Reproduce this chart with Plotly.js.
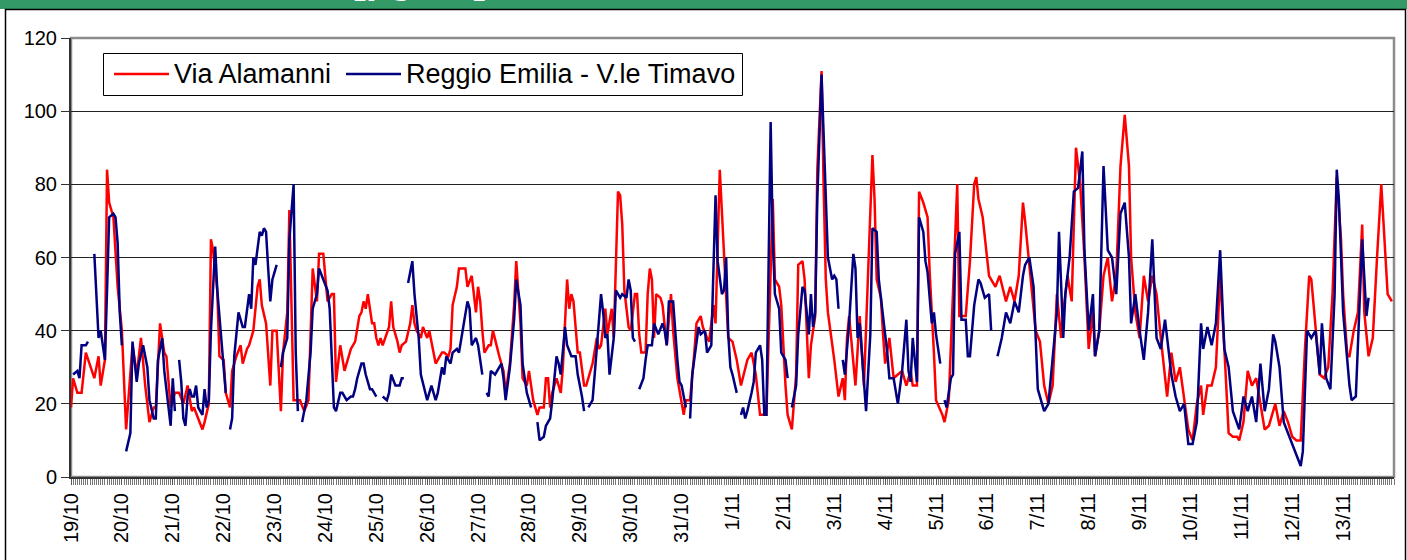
<!DOCTYPE html>
<html>
<head>
<meta charset="utf-8">
<script src="https://cdn.plot.ly/plotly-3.0.1.min.js"></script>
<style>
html,body{margin:0;padding:0;background:#fff;}
#chart{width:1407px;height:560px;}
</style>
</head>
<body>
<div id="chart"></div>
<script>
// Day labels (one tick per day, hourly minor ticks); time unit = hours since 19/10 00:00
const dayLabels = ["19/10","20/10","21/10","22/10","23/10","24/10","25/10","26/10","27/10","28/10","29/10","30/10","31/10","1/11","2/11","3/11","4/11","5/11","6/11","7/11","8/11","9/11","10/11","11/11","12/11","13/11"];
const seriesNames = ["Via Alamanni", "Reggio Emilia - V.le Timavo"];
const seriesColors = ["#ff0000", "#000080"];

// Via Alamanni (red): [hour, value] readings, null = missing
const viaAlamanni = [
[0,19],[1,27],[3,23],[5,23],[7,34],[11,27],[13,33],[14,25],[16,32],[17,84],[18,75],[20,71],[22,52],[23,46],[24,40],[26,13],[29,36],[31,28],[33,38],[35,25],[37,15],[39,19],[40,19],[42,42],[44,34],[45,33],[47,19],[49,23],[51,23],[53,20],[55,25],[57,18],[58,19],[62,13],[63,15],[65,20],[66,65],[67,62],[69,51],[70,33],[72,32],[73,23],[75,19],[76,29],[78,33],[80,36],[81,31],[83,35],[84,36],[86,40],[88,52],[89,54],[90,47],[92,42],[93,32],[94,25],[95,40],[97,40],[99,18],[100,34],[102,45],[103,73],[105,21],[108,21],[110,18],[112,21],[114,57],[116,48],[117,61],[119,61],[121,48],[123,50],[124,50],[125,26],[127,36],[129,29],[132,35],[134,37],[136,44],[137,45],[138,48],[139,46],[140,50],[142,42],[143,42],[144,38],[145,36],[146,38],[147,36],[149,39],[150,41],[151,48],[152,41],[154,37],[155,34],[156,36],[158,37],[160,42],[161,47],[162,42],[163,40],[165,38],[166,41],[168,38],[169,40],[170,37],[172,31],[173,32],[175,34],[176,34],[178,33],[179,35],[180,47],[182,52],[183,57],[186,57],[187,52],[189,55],[191,45],[192,52],[193,48],[194,40],[195,34],[197,36],[198,36],[199,40],[201,35],[202,33],[204,29],[205,23],[207,31],[209,47],[210,59],[212,42],[213,27],[215,25],[216,29],[218,21],[220,17],[221,19],[223,19],[224,27],[225,27],[226,19],[227,23],[229,27],[231,23],[232,30],[234,54],[235,46],[236,50],[237,48],[238,41],[239,34],[240,34],[242,25],[243,25],[245,29],[246,31],[248,38],[249,35],[250,36],[252,46],[253,39],[255,46],[256,38],[257,59],[258,78],[259,77],[260,69],[261,51],[263,41],[264,40],[266,50],[267,50],[268,39],[269,34],[271,34],[272,50],[273,57],[274,54],[275,38],[276,50],[278,49],[279,47],[281,36],[283,50],[284,40],[286,27],[287,24],[289,17],[290,21],[292,21],[294,34],[295,42],[297,44],[298,41],[300,38],[301,37],[303,47],[304,42],[306,84],[307,72],[308,61],[310,38],[312,37],[314,32],[316,25],[319,32],[321,34],[323,28],[325,17],[328,17],[331,76],[332,54],[334,52],[335,47],[337,25],[338,17],[340,13],[342,28],[343,58],[345,59],[346,54],[348,27],[349,36],[351,44],[352,84],[354,111],[355,79],[356,54],[357,45],[359,37],[360,32],[362,22],[364,27],[365,21],[366,38],[367,44],[370,25],[372,44],[374,25],[378,88],[379,76],[380,54],[382,49],[383,39],[384,31],[386,38],[388,27],[390,28],[392,29],[394,25],[396,29],[397,25],[399,25],[400,78],[402,75],[404,71],[405,56],[407,34],[408,21],[411,17],[412,15],[414,21],[416,52],[418,80],[419,44],[422,44],[424,59],[426,80],[427,82],[428,76],[430,71],[432,60],[433,55],[436,52],[438,55],[441,48],[443,52],[445,48],[447,55],[449,75],[450,70],[452,58],[455,40],[457,37],[459,25],[461,20],[463,25],[465,50],[467,38],[468,45],[470,55],[472,48],[474,90],[476,80],[478,60],[480,35],[482,45],[483,33],[485,40],[487,55],[489,60],[491,48],[493,55],[495,85],[497,99],[499,85],[500,60],[502,45],[504,38],[506,55],[508,48],[510,55],[512,50],[514,38],[516,28],[517,22],[519,34],[521,26],[523,30],[525,22],[527,13],[529,10],[531,20],[533,25],[534,17],[536,25],[538,25],[540,30],[542,55],[544,35],[546,12],[548,11],[550,11],[551,10],[553,15],[555,29],[557,25],[559,27],[561,20],[563,13],[565,14],[567,18],[568,20],[570,14],[572,18],[574,15],[576,11],[578,10],[580,10],[582,35],[584,55],[585,54],[587,40],[589,28],[591,27],[593,30],[595,50],[597,82],[599,65],[600,50],[602,33],[603,33],[605,40],[607,45],[609,69],[610,45],[612,33],[614,38],[616,60],[618,80],[619,70],[621,50],[623,48]
];

// Reggio Emilia - V.le Timavo (blue): [hour, value] readings, null = missing
const reggioTimavo = [
[1,28],[3,29],[4,27],[5,36],[7,36],[8,37],[9,null],[11,61],[12,50],[13,38],[14,40],[16,32],[17,51],[18,71],[20,72],[21,71],[22,64],[23,45],[24,36],[25,null],[26,7],[28,12],[29,37],[31,26],[32,31],[34,36],[36,30],[37,21],[39,16],[40,16],[41,32],[43,38],[44,29],[46,18],[47,14],[48,27],[49,18],[50,null],[51,32],[52,26],[53,16],[54,14],[55,22],[56,24],[57,22],[58,22],[59,25],[60,19],[62,17],[63,24],[64,19],[65,21],[66,40],[68,63],[69,51],[71,37],[73,23],[74,null],[75,13],[76,16],[77,33],[79,45],[81,41],[82,41],[84,50],[85,46],[86,60],[87,58],[89,67],[90,66],[91,68],[92,67],[93,57],[94,48],[95,54],[97,58],[98,null],[99,30],[100,34],[102,38],[103,65],[105,80],[106,34],[107,18],[108,null],[109,15],[110,18],[111,21],[113,34],[114,46],[116,50],[117,57],[119,54],[121,51],[122,46],[124,19],[125,18],[127,23],[128,23],[130,21],[132,22],[133,22],[134,24],[135,27],[137,31],[138,31],[139,28],[141,24],[142,24],[144,22],[145,null],[147,22],[149,21],[150,23],[151,28],[153,25],[154,25],[155,25],[156,27],[157,27],[158,null],[159,53],[161,59],[162,50],[164,38],[165,28],[167,23],[168,21],[170,25],[172,21],[173,23],[175,30],[176,28],[177,33],[179,31],[180,34],[182,35],[183,34],[185,41],[187,48],[188,46],[189,36],[191,38],[192,36],[194,28],[195,null],[196,23],[197,22],[198,29],[200,28],[201,29],[203,31],[204,27],[205,21],[207,30],[209,43],[210,54],[212,47],[213,31],[215,23],[216,21],[217,19],[218,null],[220,15],[221,10],[223,11],[224,14],[226,16],[227,21],[229,33],[230,31],[231,28],[233,41],[234,36],[236,33],[238,33],[239,28],[241,22],[242,18],[243,null],[244,19],[246,21],[247,28],[250,50],[251,45],[252,38],[253,39],[254,28],[256,38],[257,51],[259,49],[260,50],[262,49],[263,54],[264,51],[265,38],[266,37],[267,null],[268,24],[270,27],[271,32],[272,36],[274,36],[275,42],[277,39],[279,42],[280,40],[281,36],[282,48],[284,48],[286,32],[287,26],[288,25],[290,19],[291,null],[292,16],[293,28],[296,41],[297,39],[299,40],[300,34],[302,36],[304,77],[305,59],[307,50],[308,51],[309,60],[310,39],[311,30],[312,28],[314,23],[315,null],[316,17],[317,19],[318,16],[319,18],[321,23],[322,26],[323,34],[325,36],[326,32],[327,17],[328,17],[329,56],[330,97],[331,65],[332,50],[334,46],[335,34],[337,32],[338,27],[339,null],[340,19],[342,25],[343,39],[345,52],[346,51],[348,39],[349,50],[350,41],[351,45],[352,76],[354,110],[356,74],[357,60],[359,54],[360,55],[361,54],[362,46],[363,null],[364,32],[365,28],[367,42],[369,61],[370,57],[371,38],[372,42],[373,33],[375,18],[377,39],[378,68],[380,67],[381,54],[383,44],[385,34],[386,27],[388,27],[390,20],[391,24],[392,29],[394,43],[395,29],[396,26],[397,38],[399,26],[400,71],[402,67],[403,59],[404,56],[405,49],[406,42],[407,45],[408,39],[410,31],[411,null],[412,21],[413,19],[415,27],[416,28],[417,61],[419,67],[420,43],[422,43],[423,33],[424,33],[426,47],[428,54],[429,53],[431,49],[433,50],[434,40],[435,null],[437,33],[439,38],[441,45],[443,42],[445,48],[447,45],[449,55],[450,58],[452,60],[454,52],[456,24],[459,18],[461,20],[463,32],[465,45],[466,67],[468,38],[469,50],[471,60],[473,78],[475,79],[477,89],[478,62],[480,40],[482,50],[483,33],[485,40],[487,85],[489,62],[491,60],[493,50],[495,72],[497,75],[499,60],[500,42],[502,50],[504,40],[506,32],[508,45],[510,65],[512,38],[514,35],[516,43],[517,38],[519,28],[521,22],[523,18],[525,20],[527,9],[529,9],[531,15],[533,42],[534,35],[536,41],[538,36],[540,42],[542,62],[544,35],[546,30],[548,18],[550,15],[551,13],[553,22],[555,18],[557,22],[559,15],[561,31],[563,18],[565,24],[567,39],[568,37],[570,30],[572,15],[574,12],[578,6],[580,3],[581,7],[583,40],[585,38],[587,40],[589,28],[590,42],[592,27],[594,24],[596,50],[597,84],[598,76],[600,45],[603,25],[604,21],[606,22],[609,65],[611,44],[612,49]
];

const tickHours = dayLabels.map((_, d) => d * 24);

const W = 1407, H = 560;
const m = {l: 71, r: 13, t: 38, b: 83};
const pw = W - m.l - m.r, ph = H - m.t - m.b;
const px = x => (x - m.l) / pw;       // pixel x -> paper
const py = y => (H - m.b - y) / ph;   // pixel y -> paper
const FONT = "Arial, 'Liberation Sans', sans-serif";

const traces = [viaAlamanni, reggioTimavo].map((s, k) => ({
  x: s.map(p => p[0]), y: s.map(p => p[1]),
  name: seriesNames[k], type: "scatter", mode: "lines",
  line: {color: seriesColors[k], width: 2.5}, connectgaps: false
}));

// legend box drawn as shapes + text (Excel-style long line samples)
const legY = 74;
const legendShapes = [
  {type: "rect", xref: "paper", yref: "paper", x0: px(103.5), x1: px(742.5), y0: py(95.5), y1: py(53.5),
   fillcolor: "#ffffff", line: {color: "#000", width: 1}, layer: "above"},
  {type: "line", xref: "paper", yref: "paper", x0: px(114), x1: px(169), y0: py(legY), y1: py(legY),
   line: {color: seriesColors[0], width: 2.5}, layer: "above"},
  {type: "line", xref: "paper", yref: "paper", x0: px(346), x1: px(401), y0: py(legY), y1: py(legY),
   line: {color: seriesColors[1], width: 2.5}, layer: "above"}
];
const legendTexts = [
  {xref: "paper", yref: "paper", x: px(172), y: py(legY), xanchor: "left", yanchor: "middle",
   text: seriesNames[0], showarrow: false, font: {family: FONT, size: 27, color: "#000"}},
  {xref: "paper", yref: "paper", x: px(404), y: py(legY), xanchor: "left", yanchor: "middle",
   text: seriesNames[1], showarrow: false, font: {family: FONT, size: 27, color: "#000"}}
];

const layout = {
  width: W, height: H,
  margin: m,
  paper_bgcolor: "#ffffff",
  plot_bgcolor: "#ffffff",
  font: {family: FONT, color: "#000"},
  showlegend: false,
  xaxis: {
    range: [0, 624],
    tickmode: "array", tickvals: tickHours, ticktext: dayLabels,
    tickangle: -90,
    tickfont: {size: 20, color: "#000"},
    ticks: "outside", ticklen: 6, tickcolor: "#555", tickwidth: 1,
    minor: {tickmode: "linear", tick0: 0, dtick: 1, ticks: "outside", ticklen: 6, tickcolor: "#777", tickwidth: 1, showgrid: false},
    showgrid: false, zeroline: false,
    showline: true, linecolor: "#333", linewidth: 2,
    fixedrange: true
  },
  yaxis: {
    range: [0, 120], tickmode: "linear", tick0: 0, dtick: 20,
    tickfont: {size: 20, color: "#000"},
    ticks: "outside", ticklen: 8, tickcolor: "#333", tickwidth: 1,
    showgrid: true, gridcolor: "#222", gridwidth: 1,
    zeroline: false, showline: true, linecolor: "#333", linewidth: 2,
    fixedrange: true
  },
  shapes: [
    // green header band
    {type: "rect", xref: "paper", yref: "paper", x0: px(-2), x1: px(W + 2), y0: py(9), y1: py(-2),
     fillcolor: "#339966", line: {width: 0}, layer: "below"},
    // outer chart box
    {type: "rect", xref: "paper", yref: "paper", x0: px(5.5), x1: px(1405.5), y0: py(575), y1: py(9.5),
     fillcolor: "rgba(0,0,0,0)", line: {color: "#000", width: 1.5}, layer: "below"},
    // plot area frame
    {type: "rect", xref: "paper", yref: "paper", x0: 0, x1: 1, y0: 0, y1: 1,
     fillcolor: "rgba(0,0,0,0)", line: {color: "#8c8c8c", width: 2.5}, layer: "below"}
  ].concat(legendShapes),
  annotations: [
    // header title (mostly above the visible area, as in the reference)
    {xref: "paper", yref: "paper", x: px(489), y: py(3), xanchor: "right", yanchor: "bottom",
     text: "<b>PM10 [µg/m³]</b>", showarrow: false,
     font: {family: FONT, size: 40, color: "#ffffff"}}
  ].concat(legendTexts)
};

Plotly.newPlot("chart", traces, layout, {displayModeBar: false, staticPlot: true});
</script>
</body>
</html>
